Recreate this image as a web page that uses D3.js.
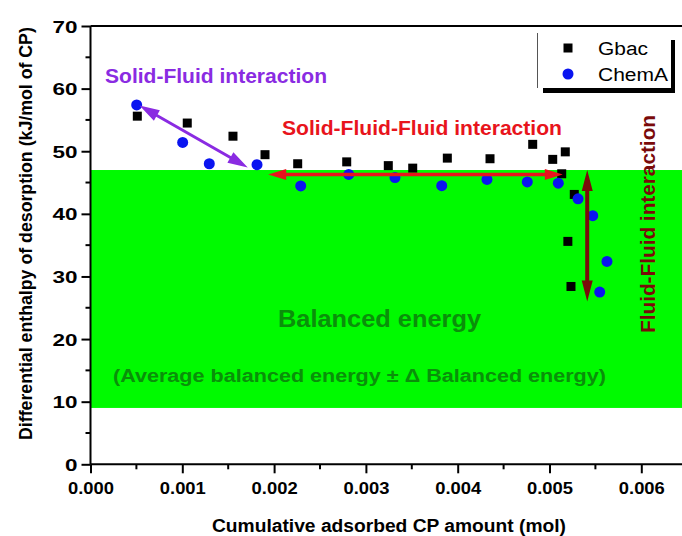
<!DOCTYPE html>
<html><head><meta charset="utf-8">
<script src="https://cdn.jsdelivr.net/npm/d3@7"></script>
<style>html,body{margin:0;padding:0;background:#fff;}</style>
</head><body><div id="chart"></div>
<script>
// ---- data ----
const gbacX = [0.00051,0.001054,0.001552,0.001901,0.002257,0.002791,0.003244,0.00351,0.003887,0.004352,0.004817,0.005035,0.005172,0.005133,0.00527,0.0052,0.005234];
const gbacY = [55.6,54.5,52.4,49.45,48.0,48.3,47.7,47.3,48.9,48.8,51.1,48.7,49.9,46.4,43.1,35.6,28.4];
const chemX = [0.000503,0.001004,0.001294,0.001814,0.00229,0.002813,0.003317,0.003826,0.004319,0.004758,0.005096,0.005311,0.005471,0.005626,0.005547];
const chemY = [57.4,51.4,48.0,47.85,44.45,46.3,45.8,44.5,45.5,45.1,44.9,42.4,39.7,32.4,27.5];
const xTicks = [0,0.001,0.002,0.003,0.004,0.005,0.006];
const yTicks = [0,10,20,30,40,50,60,70];
const bandRange = [9, 47];
const seriesNames = ["Gbac","ChemA"];
// annotation arrows in data units: [x1,y1,x2,y2]
const arrowSolidFluid = [0.000534,57.3,0.001713,47.4];
const arrowSFF = [0.001936,46.3,0.005145,46.3];
const arrowFF = [0.005411,47.0,0.005411,26.0];

const W = 682, H = 536;
const FONT = "'Liberation Sans', Arial, sans-serif";
const svg = d3.select("#chart").append("svg").attr("width",W).attr("height",H)
  .style("font-family",FONT);

const x = d3.scaleLinear().domain([0,0.0065]).range([90.5,687.2]);
const y = d3.scaleLinear().domain([0,70]).range([464.3,26]);

// green band
svg.append("rect").attr("x",x(0)).attr("y",y(bandRange[1]))
  .attr("width",x(0.0065)-x(0)).attr("height",y(bandRange[0])-y(bandRange[1]))
  .attr("fill","#00fa00");

// band texts
svg.append("text").attr("x",278).attr("y",327).attr("font-size",23).attr("font-weight","bold")
  .attr("fill","#0a8f0a").attr("textLength",203).attr("lengthAdjust","spacingAndGlyphs").text("Balanced energy");
svg.append("text").attr("x",113).attr("y",382).attr("font-size",18).attr("font-weight","bold")
  .attr("fill","#0a8f0a").attr("textLength",493).attr("lengthAdjust","spacingAndGlyphs")
  .text("(Average balanced energy \u00B1 \u0394 Balanced energy)");

// axes
const xAxis = d3.axisBottom(x).tickValues(xTicks).tickFormat(d3.format(".3f")).tickSize(9).tickPadding(4);
const gx = svg.append("g").attr("transform",`translate(0,${y(0)})`).call(xAxis);
const xMinor = d3.range(0.0005,0.0065,0.001);
gx.selectAll(".minor").data(xMinor).enter().append("line").attr("class","minor")
  .attr("x1",d=>x(d)).attr("x2",d=>x(d)).attr("y1",0).attr("y2",5).attr("stroke","#000").attr("stroke-width",2);
gx.select(".domain").attr("stroke-width",2).attr("d",`M${x(0)},0H${x(0.0065)}`);
gx.selectAll(".tick line").attr("stroke-width",2);
gx.selectAll(".tick text").attr("font-size",17).attr("font-weight","bold").attr("font-family",FONT)
  .attr("textLength",46).attr("lengthAdjust","spacingAndGlyphs").attr("dy","17px");

const yAxis = d3.axisLeft(y).tickValues(yTicks).tickSize(9).tickPadding(4);
const gy = svg.append("g").attr("transform",`translate(${x(0)},0)`).call(yAxis);
const yMinor = d3.range(5,70,10);
gy.selectAll(".minor").data(yMinor).enter().append("line").attr("class","minor")
  .attr("y1",d=>y(d)).attr("y2",d=>y(d)).attr("x1",0).attr("x2",-5).attr("stroke","#000").attr("stroke-width",2);
gy.select(".domain").attr("stroke-width",2).attr("d",`M0,${y(0)}V${y(70)}`);
gy.selectAll(".tick line").attr("stroke-width",2);
gy.selectAll(".tick text").attr("font-size",17).attr("font-weight","bold").attr("font-family",FONT)
  .attr("textLength",d=>String(d).length*12.5).attr("lengthAdjust","spacingAndGlyphs").attr("dy","6px");

// top frame line
svg.append("line").attr("x1",x(0)).attr("x2",W).attr("y1",y(70)).attr("y2",y(70)).attr("stroke","#000").attr("stroke-width",2);

// axis titles
svg.append("text").attr("x",212).attr("y",532).attr("font-size",18).attr("font-weight","bold")
  .attr("textLength",354).attr("lengthAdjust","spacingAndGlyphs").text("Cumulative adsorbed CP amount (mol)");
const yTitle = svg.append("text").attr("font-size",19).attr("font-weight","bold")
  .text("Differential enthalpy of desorption (kJ/mol of CP)");
const natLen = yTitle.node().getComputedTextLength();
yTitle.attr("transform",`translate(32,440) rotate(-90) scale(${413/natLen},1)`);

// arrows
function dblArrow(a, color, shaft, headL, headW){
  const x1=x(a[0]), y1=y(a[1]), x2=x(a[2]), y2=y(a[3]);
  const dx=x2-x1, dy=y2-y1, L=Math.hypot(dx,dy), ux=dx/L, uy=dy/L, px=-uy, py=ux;
  const s=shaft/2, h=headW/2;
  const pts=[
    [x1,y1],
    [x1+ux*headL+px*h, y1+uy*headL+py*h],
    [x1+ux*headL+px*s, y1+uy*headL+py*s],
    [x2-ux*headL+px*s, y2-uy*headL+py*s],
    [x2-ux*headL+px*h, y2-uy*headL+py*h],
    [x2,y2],
    [x2-ux*headL-px*h, y2-uy*headL-py*h],
    [x2-ux*headL-px*s, y2-uy*headL-py*s],
    [x1+ux*headL-px*s, y1+uy*headL-py*s],
    [x1+ux*headL-px*h, y1+uy*headL-py*h]
  ];
  svg.append("path").attr("d","M"+pts.map(p=>p.join(",")).join("L")+"Z").attr("fill",color);
}

// points
svg.append("g").selectAll("rect").data(gbacX.map((d,i)=>[d,gbacY[i]])).enter().append("rect")
  .attr("x",d=>x(d[0])-4.5).attr("y",d=>y(d[1])-4.5).attr("width",9).attr("height",9).attr("fill","#000");
svg.append("g").selectAll("circle").data(chemX.map((d,i)=>[d,chemY[i]])).enter().append("circle")
  .attr("cx",d=>x(d[0])).attr("cy",d=>y(d[1])).attr("r",5.5).attr("fill","#0a14f0");

dblArrow(arrowSolidFluid,"#8a2be2",3,20,12);
dblArrow(arrowSFF,"#e8141c",3.5,18,11);
dblArrow(arrowFF,"#7a0a0a",4,21,11);

// annotation texts
svg.append("text").attr("x",105).attr("y",83).attr("font-size",20).attr("font-weight","bold")
  .attr("fill","#8a2be2").attr("textLength",222).attr("lengthAdjust","spacingAndGlyphs").text("Solid-Fluid interaction");
svg.append("text").attr("x",282).attr("y",135).attr("font-size",20).attr("font-weight","bold")
  .attr("fill","#e8141c").attr("textLength",280).attr("lengthAdjust","spacingAndGlyphs").text("Solid-Fluid-Fluid interaction");
svg.append("text").attr("transform","translate(655,333) rotate(-90)").attr("font-size",20).attr("font-weight","bold")
  .attr("fill","#7a0a0a").attr("textLength",218).attr("lengthAdjust","spacingAndGlyphs").text("Fluid-Fluid interaction");

// legend
const lg = svg.append("g");
lg.append("rect").attr("x",537).attr("y",33).attr("width",135).attr("height",55).attr("fill","#fff");
lg.append("line").attr("x1",537.5).attr("x2",537.5).attr("y1",33).attr("y2",88).attr("stroke","#555").attr("stroke-width",1);
lg.append("rect").attr("x",543).attr("y",88).attr("width",132).attr("height",5).attr("fill","#000");
lg.append("rect").attr("x",671).attr("y",40).attr("width",4).attr("height",53).attr("fill","#000");
lg.append("rect").attr("x",563.5).attr("y",43.5).attr("width",9).attr("height",9).attr("fill","#000");
lg.append("circle").attr("cx",568).attr("cy",74).attr("r",5.5).attr("fill","#0a14f0");
lg.append("text").attr("x",598).attr("y",55).attr("font-size",18).attr("textLength",50).attr("lengthAdjust","spacingAndGlyphs").text(seriesNames[0]);
lg.append("text").attr("x",598).attr("y",81).attr("font-size",18).attr("textLength",70).attr("lengthAdjust","spacingAndGlyphs").text(seriesNames[1]);
</script></body></html>
